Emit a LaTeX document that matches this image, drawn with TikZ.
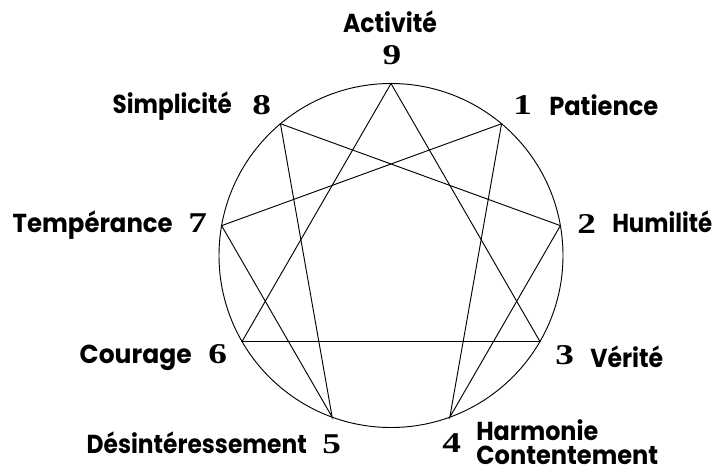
\documentclass[tikz,border=0pt]{standalone}
\usepackage{graphicx}
\usepackage{fontspec}
\usetikzlibrary{calc}
\newfontfamily\labfont{Poppins}
\newfontfamily\numfont{Liberation Serif}
\newcommand\fitw[2]{\resizebox{\dimexpr #1pt*3/4\relax}{\height}{#2}}
\newcommand\dig[1]{\scalebox{1.3}[1]{#1}}
\begin{document}
\begin{tikzpicture}[x=0.75pt,y=-0.75pt,
  lab/.style={inner sep=0pt,font=\labfont\bfseries\fontsize{19.5}{22}\selectfont},
  num/.style={inner sep=0pt,font=\numfont\bfseries\fontsize{21.5}{24}\selectfont},
  edge/.style={line width=0.7pt,line join=miter}]
\useasboundingbox (0,0) rectangle (714,472);
\coordinate (c) at (391,255.5);
\foreach \k in {0,...,8} \coordinate (p\k) at ($(c)+({172*sin(40*\k)},{-172*cos(40*\k)})$);
\draw[edge] (c) circle[radius=129pt];
\draw[edge] (p0) -- (p3) -- (p6) -- cycle;
\draw[edge] (p1) -- (p4) -- (p2) -- (p8) -- (p5) -- (p7) -- cycle;
% labels
\node[lab,anchor=base] (l9) at (390,32) {\fitw{94}{Activité}};
\node[num,anchor=base] (n9) at (392,64) {\dig{9}};
\node[lab,anchor=base east] (l8) at (232,113) {\fitw{119}{Simplicité}};
\node[num,anchor=base west] (n8) at (252,114) {\dig{8}};
\node[num,anchor=base west] (n1) at (513,114) {\dig{1}};
\node[lab,anchor=base west] (l1) at (549,115) {\fitw{109}{Patience}};
\node[lab,anchor=base east] (l7) at (173,232) {\fitw{160}{Tempérance}};
\node[num,anchor=base west] (n7) at (188,232) {\dig{7}};
\node[num,anchor=base west] (n2) at (577,233) {\dig{2}};
\node[lab,anchor=base west] (l2) at (612,232) {\fitw{100}{Humilité}};
\node[lab,anchor=base east] (l6) at (192,363) {\fitw{112}{Courage}};
\node[num,anchor=base west] (n6) at (208,363) {\dig{6}};
\node[num,anchor=base west] (n3) at (555,364) {\dig{3}};
\node[lab,anchor=base west] (l3) at (590,367) {\fitw{73}{Vérité}};
\node[lab,anchor=base east] (l5) at (307,453) {\fitw{220}{Désintéressement}};
\node[num,anchor=base west] (n5) at (322,453) {\dig{5}};
\node[num,anchor=base west] (n4) at (442,452) {\dig{4}};
\node[lab,anchor=base west,text depth=0pt] (l4a) at (476,440) {\fitw{122}{Harmonie}};
\node[lab,anchor=base west,text depth=0pt,text height=13pt] (l4b) at (476,464) {\fitw{182}{Contentement}};
\end{tikzpicture}
\end{document}
